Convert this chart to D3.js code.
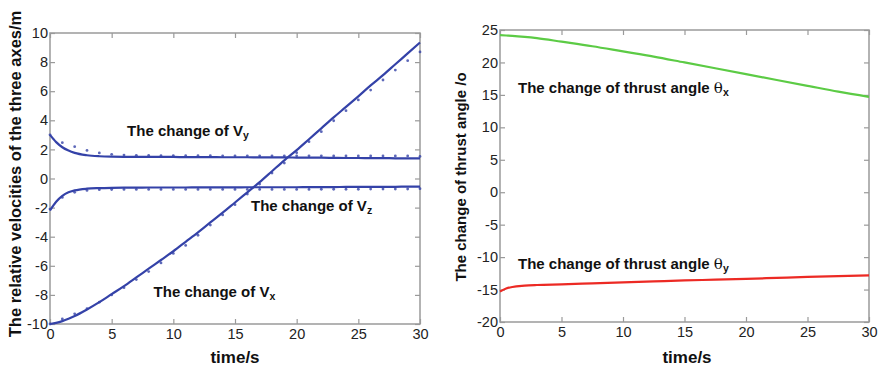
<!DOCTYPE html>
<html>
<head>
<meta charset="utf-8">
<script src="https://cdn.jsdelivr.net/npm/d3@7"></script>
<style>
  body { margin: 0; background: #fff; }
  text { font-family: "Liberation Sans", Arial, Helvetica, sans-serif; }
  .ax-title { font-weight: bold; fill: #111; }
  .note { font-weight: bold; font-size: 15px; fill: #111; }
</style>
</head>
<body>
<div id="chart"></div>
<script>
// ---- data ----
// solid lines (denser near t = 0 where they bend)
var tLine = [0, 0.5, 1, 1.5, 2, 3, 4, 5, 6, 7, 8, 9, 10, 11, 12, 13, 14, 15, 16, 17, 18, 19, 20, 21, 22, 23, 24, 25, 26, 27, 28, 29, 30];
var vxLine = [-10, -9.92, -9.8, -9.64, -9.45, -9.0, -8.5, -7.95, -7.4, -6.8, -6.2, -5.6, -5.0, -4.35, -3.7, -3.02, -2.35, -1.65, -0.95, -0.25, 0.5, 1.25, 1.95, 2.7, 3.45, 4.2, 4.92, 5.65, 6.4, 7.1, 7.85, 8.6, 9.35];
var vyLine = [3.0, 2.5, 2.15, 1.92, 1.76, 1.6, 1.53, 1.5, 1.49, 1.49, 1.48, 1.48, 1.48, 1.47, 1.47, 1.47, 1.46, 1.46, 1.46, 1.45, 1.45, 1.45, 1.44, 1.43, 1.43, 1.42, 1.41, 1.41, 1.40, 1.40, 1.39, 1.39, 1.38];
var vzLine = [-2.2, -1.6, -1.2, -0.95, -0.82, -0.7, -0.66, -0.64, -0.63, -0.63, -0.62, -0.62, -0.62, -0.62, -0.61, -0.61, -0.61, -0.61, -0.6, -0.6, -0.6, -0.6, -0.6, -0.59, -0.59, -0.59, -0.58, -0.58, -0.58, -0.57, -0.57, -0.56, -0.56];

// dotted series, one point per second
var tDot = [0, 1, 2, 3, 4, 5, 6, 7, 8, 9, 10, 11, 12, 13, 14, 15, 16, 17, 18, 19, 20, 21, 22, 23, 24, 25, 26, 27, 28, 29, 30];
var vxDot = [-10, -9.65, -9.3, -8.95, -8.5, -8.0, -7.5, -6.95, -6.4, -5.8, -5.15, -4.6, -3.9, -3.2, -2.5, -1.8, -1.07, -0.38, 0.37, 1.06, 1.77, 2.53, 3.22, 3.97, 4.66, 5.4, 6.08, 6.77, 7.45, 8.1, 8.7];
var vyDot = [3.0, 2.46, 2.19, 1.93, 1.76, 1.66, 1.61, 1.59, 1.58, 1.57, 1.57, 1.57, 1.57, 1.57, 1.56, 1.56, 1.56, 1.56, 1.56, 1.56, 1.56, 1.56, 1.56, 1.55, 1.55, 1.55, 1.55, 1.55, 1.55, 1.55, 1.52];
var vzDot = [-2.1, -1.3, -0.95, -0.82, -0.77, -0.76, -0.75, -0.75, -0.75, -0.75, -0.75, -0.75, -0.75, -0.75, -0.75, -0.75, -0.75, -0.75, -0.75, -0.75, -0.75, -0.75, -0.74, -0.74, -0.74, -0.74, -0.73, -0.73, -0.73, -0.72, -0.70];

// thrust angles
var tAng = [0, 0.5, 1, 2, 3, 5, 7.5, 10, 12.5, 15, 17.5, 20, 22.5, 25, 27.5, 30];
var thetaX = [24.2, 24.15, 24.1, 23.95, 23.75, 23.2, 22.5, 21.7, 20.9, 20.0, 19.1, 18.2, 17.3, 16.4, 15.5, 14.7];
var thetaY = [-15.3, -14.85, -14.6, -14.4, -14.3, -14.2, -14.05, -13.9, -13.75, -13.6, -13.48, -13.35, -13.2, -13.05, -12.92, -12.8];

var xTicks = [0, 5, 10, 15, 20, 25, 30];
var yTicksL = [-10, -8, -6, -4, -2, 0, 2, 4, 6, 8, 10];
var yTicksR = [-20, -15, -10, -5, 0, 5, 10, 15, 20, 25];

var blue = "#3442a8", green = "#5ccb45", red = "#ec2a24", boxColor = "#9a9a9a";

var svg = d3.select("#chart").append("svg")
  .attr("width", 883).attr("height", 373);

// plain hyphen minus, like the original
var fmt = function(d) { return String(d); };

function panel(left, top, right, bottom, yDomain, yTicks) {
  var x = d3.scaleLinear().domain([0, 30]).range([left, right]);
  var y = d3.scaleLinear().domain(yDomain).range([bottom, top]);
  var g = svg.append("g");

  g.append("rect")
    .attr("x", left).attr("y", top)
    .attr("width", right - left).attr("height", bottom - top)
    .attr("fill", "none").attr("stroke", boxColor).attr("stroke-width", 1.5);

  var xAxis = g.append("g")
    .attr("transform", "translate(0," + bottom + ")")
    .call(d3.axisBottom(x).tickValues(xTicks).tickSize(-5).tickPadding(5).tickFormat(fmt));
  var yAxis = g.append("g")
    .attr("transform", "translate(" + left + ",0)")
    .call(d3.axisLeft(y).tickValues(yTicks).tickSize(-5).tickPadding(4).tickFormat(fmt));
  // mirrored ticks on top and right, no labels
  g.append("g")
    .attr("transform", "translate(0," + top + ")")
    .call(d3.axisTop(x).tickValues(xTicks).tickSize(-5).tickFormat(""));
  g.append("g")
    .attr("transform", "translate(" + right + ",0)")
    .call(d3.axisRight(y).tickValues(yTicks).tickSize(-5).tickFormat(""));

  g.selectAll(".domain").remove();
  g.selectAll(".tick line").attr("stroke", boxColor).attr("stroke-width", 1.2);
  g.selectAll(".tick text")
    .style("font-size", "14.5px")
    .style("font-family", "'Liberation Sans', Arial, sans-serif")
    .attr("fill", "#222");
  xAxis.selectAll("text").attr("dy", "0.72em");
  yAxis.selectAll("text").attr("dx", "2");
  return { x: x, y: y, g: g };
}

function drawLine(p, ts, vs, color, w) {
  var line = d3.line()
    .x(function(d, i) { return p.x(ts[i]); })
    .y(function(d) { return p.y(d); })
    .curve(d3.curveMonotoneX);
  p.g.append("path")
    .datum(vs)
    .attr("d", line)
    .attr("fill", "none")
    .attr("stroke", color)
    .attr("stroke-width", w);
}

function drawDots(p, ts, vs) {
  p.g.selectAll(null)
    .data(vs)
    .enter().append("circle")
      .attr("cx", function(d, i) { return p.x(ts[i]); })
      .attr("cy", function(d) { return p.y(d); })
      .attr("r", 1.4)
      .attr("fill", blue)
      .attr("opacity", 0.8);
}

function note(p, xv, yv, main, sub) {
  var t = p.g.append("text").attr("class", "note")
    .attr("x", p.x(xv)).attr("y", p.y(yv));
  t.append("tspan").text(main);
  t.append("tspan").attr("font-size", "10.5px").attr("dy", "3").text(sub);
}

// ---- left panel ----
var pl = panel(50, 33, 420, 324, [-10, 10], yTicksL);
drawDots(pl, tDot, vxDot);
drawDots(pl, tDot, vyDot);
drawDots(pl, tDot, vzDot);
drawLine(pl, tLine, vxLine, blue, 2.2);
drawLine(pl, tLine, vyLine, blue, 2.2);
drawLine(pl, tLine, vzLine, blue, 2.2);

note(pl, 6.25, 2.9, "The change of V", "y");
note(pl, 16.3, -2.2, "The change of V", "z");
note(pl, 8.4, -8.15, "The change of V", "x");

svg.append("text").attr("class", "ax-title")
  .attr("x", 235).attr("y", 363)
  .attr("text-anchor", "middle").attr("font-size", "17px")
  .text("time/s");
svg.append("text").attr("class", "ax-title")
  .attr("transform", "translate(21,174) rotate(-90)")
  .attr("text-anchor", "middle").attr("font-size", "16.5px")
  .text("The relative velocities of the three axes/m");

// ---- right panel ----
var pr = panel(500, 30, 869, 322, [-20, 25], yTicksR);
drawLine(pr, tAng, thetaX, green, 2.2);
drawLine(pr, tAng, thetaY, red, 2.2);

function angleNote(yv, sub) {
  var t = pr.g.append("text").attr("class", "note")
    .attr("x", 518).attr("y", pr.y(yv));
  t.append("tspan").text("The change of thrust angle ");
  t.append("tspan").attr("font-family", "'DejaVu Serif', serif").attr("font-weight", "normal").text("\u03b8");
  t.append("tspan").attr("font-size", "10.5px").attr("dy", "3").text(sub);
}
angleNote(15.3, "x");
angleNote(-11.8, "y");

svg.append("text").attr("class", "ax-title")
  .attr("x", 687).attr("y", 363)
  .attr("text-anchor", "middle").attr("font-size", "17px")
  .text("time/s");
svg.append("text").attr("class", "ax-title")
  .attr("transform", "translate(466,177) rotate(-90)")
  .attr("text-anchor", "middle").attr("font-size", "15px")
  .text("The change of thrust angle /o");
</script>
</body>
</html>
